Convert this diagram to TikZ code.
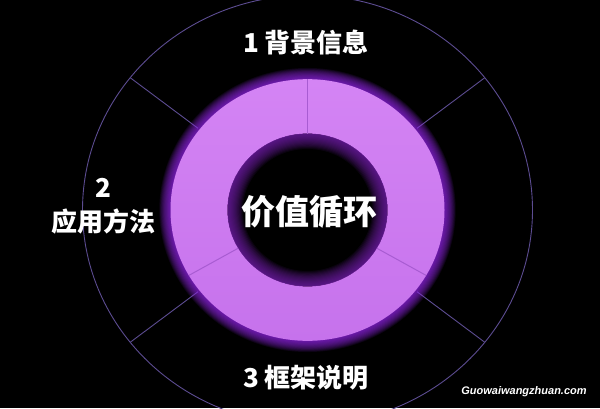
\documentclass[tikz,border=0pt]{standalone}
\usepackage{fontspec}
\newfontfamily\cjk{Noto Sans CJK SC}
\newfontfamily\wmfont{Liberation Sans}
\definecolor{ringtop}{RGB}{212,132,244}
\definecolor{ringbot}{RGB}{198,114,236}
\definecolor{glowcol}{RGB}{150,40,235}
\definecolor{holeglow}{RGB}{125,35,185}
\definecolor{linecol}{RGB}{92,76,145}
\definecolor{divcol}{RGB}{168,92,210}
\tikzset{
  outline/.style={draw=linecol, line width=0.9pt},
  divider/.style={draw=divcol, line width=1pt},
  label/.style={text=white, font=\cjk\bfseries, inner sep=0pt},
}
\begin{document}
\begin{tikzpicture}[x=1pt,y=1pt]
\fill[black] (0,0) rectangle (600,408);
\useasboundingbox (0,0) rectangle (600,408);
\begin{scope}[shift={(307.5,198)}, yscale=0.955]
  % outer circle and radial lines
  \draw[outline] (0,0) circle (225);
  \foreach \a in {38,142,218,322}
    \draw[outline] (\a:139) -- (\a:225);
  % outer glow
  \foreach \i in {1,...,14}
    \draw[glowcol, opacity=0.085, line width=\i*1.6pt] (0,0) circle (137);
  % ring
  \shade[even odd rule, top color=ringtop, bottom color=ringbot]
    (0,0) circle (137) (0,0) circle (80);
  % inner glow in the hole
  \begin{scope}
    \clip (0,0) circle (80);
    \foreach \i in {1,...,14}
      \draw[holeglow, opacity=0.085, line width=\i*2.2pt] (0,0) circle (80);
  \end{scope}
  % dividers
  \foreach \a in {90,210,330}
    \draw[divider] (\a:80) -- (\a:137);
\end{scope}
% texts
\node[label, font=\cjk\bfseries\fontsize{34}{34}\selectfont] (center) at (309,196) {价值循环};
\node[label, font=\cjk\bfseries\fontsize{26}{26}\selectfont] (t1) at (306,365) {1 背景信息};
\node[label, font=\cjk\bfseries\fontsize{26}{26}\selectfont] (t2a) at (103,220) {2};
\node[label, font=\cjk\bfseries\fontsize{26}{26}\selectfont] (t2b) at (103,186) {应用方法};
\node[label, font=\cjk\bfseries\fontsize{26}{26}\selectfont] (t3) at (306,30) {3 框架说明};
\node[text=white, font=\wmfont\bfseries\itshape\fontsize{11}{11}\selectfont, inner sep=0pt] (wm) at (524,16) {Guowaiwangzhuan.com};
\end{tikzpicture}
\end{document}
